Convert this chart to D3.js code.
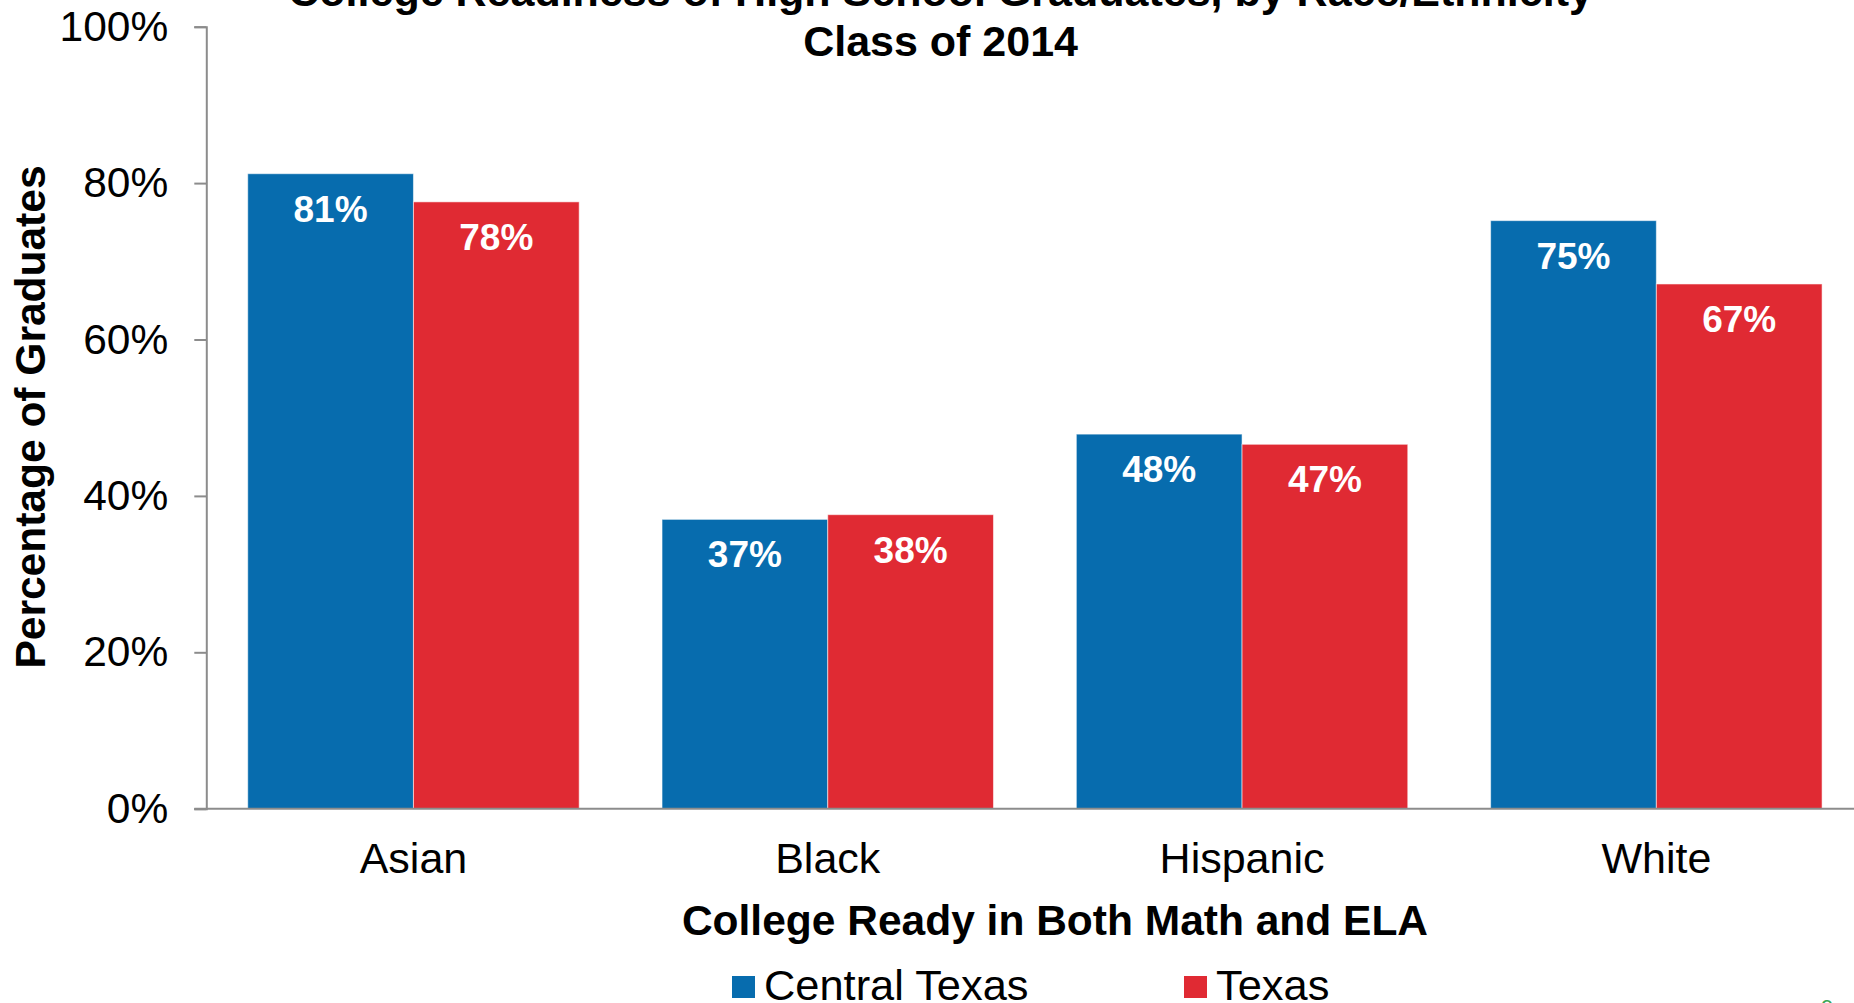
<!DOCTYPE html>
<html>
<head>
<meta charset="utf-8">
<script src="https://cdn.jsdelivr.net/npm/d3@7"></script>
<style>
  html, body { margin: 0; padding: 0; background: #fff; overflow: hidden; }
  svg { display: block; font-family: "Liberation Sans", Arial, Helvetica, sans-serif; }
</style>
</head>
<body>
<svg id="chart" width="1854" height="1003"></svg>
<script>
const categories = ["Asian", "Black", "Hispanic", "White"];
const seriesNames = ["Central Texas", "Texas"];
const centralTexas = [81.2, 37.0, 47.9, 75.2];
const texas = [77.6, 37.6, 46.6, 67.1];
const yTicks = [0, 20, 40, 60, 80, 100];
const titleLines = ["College Readiness of High School Graduates, by Race/Ethnicity", "Class of 2014"];
const xTitle = "College Ready in Both Math and ELA";
const yTitle = "Percentage of Graduates";
const colors = ["#076cae", "#e02a33"];

(function () {
const svg = d3.select("#chart");
const W = 1854, H = 1003;
const plotLeft = 206.3, plotRight = 1863.5, plotTop = 26.7, plotBottom = 808.7;

const x = d3.scaleBand().domain(categories).range([plotLeft, plotRight]).paddingInner(0.2).paddingOuter(0.1);
const xs = d3.scaleBand().domain(seriesNames).range([0, x.bandwidth()]);
const y = d3.scaleLinear().domain([0, 100]).range([plotBottom, plotTop]);

const seriesData = [centralTexas, texas];

// bars
seriesNames.forEach((s, si) => {
  const g = svg.append("g");
  g.selectAll("rect").data(categories).join("rect")
    .attr("x", c => x(c) + xs(s))
    .attr("y", (c, i) => y(seriesData[si][i]))
    .attr("width", xs.bandwidth())
    .attr("height", (c, i) => y(0) - y(seriesData[si][i]))
    .attr("fill", colors[si])
    .attr("stroke", "rgba(255,255,255,0.55)")
    .attr("stroke-width", 1);
  g.selectAll("text").data(categories).join("text")
    .attr("x", c => x(c) + xs(s) + xs.bandwidth() / 2)
    .attr("y", (c, i) => y(seriesData[si][i]) + 48)
    .attr("text-anchor", "middle")
    .attr("fill", "#fff")
    .attr("font-weight", "bold")
    .attr("font-size", 37)
    .text((c, i) => Math.round(seriesData[si][i]) + "%");
});

// y axis
const yAxis = d3.axisLeft(y).tickValues(yTicks).tickFormat(d => d + "%").tickSize(12).tickPadding(26);
const ya = svg.append("g").attr("transform", `translate(${plotLeft},0)`).call(yAxis);
ya.select(".domain").attr("stroke", "#8c8c8c").attr("stroke-width", 2);
ya.selectAll(".tick line").attr("stroke", "#8c8c8c").attr("stroke-width", 2);
ya.selectAll(".tick text").attr("font-size", 42.5).attr("fill", "#000")
  .attr("font-family", "'Liberation Sans', Arial, sans-serif");

// x axis
const xAxis = d3.axisBottom(x).tickSize(0).tickPadding(0);
const xa = svg.append("g").attr("transform", `translate(0,${plotBottom})`).call(xAxis);
xa.select(".domain").attr("d", `M${plotLeft - 12},0H${W}`).attr("stroke", "#8c8c8c").attr("stroke-width", 2);
xa.selectAll(".tick text").attr("font-size", 43).attr("fill", "#000")
  .attr("font-family", "'Liberation Sans', Arial, sans-serif")
  .attr("dy", null).attr("y", 873 - plotBottom);

// titles
svg.append("text").attr("x", 940.6).attr("y", 6).attr("text-anchor", "middle")
  .attr("font-weight", "bold").attr("font-size", 43).text(titleLines[0]);
svg.append("text").attr("x", 940.6).attr("y", 55.6).attr("text-anchor", "middle")
  .attr("font-weight", "bold").attr("font-size", 43).text(titleLines[1]);

svg.append("text").attr("x", 1055).attr("y", 935).attr("text-anchor", "middle")
  .attr("font-weight", "bold").attr("font-size", 42.5).text(xTitle);

svg.append("text").attr("transform", "translate(45,417) rotate(-90)").attr("text-anchor", "middle")
  .attr("font-weight", "bold").attr("font-size", 42.5).text(yTitle);

// legend
const legendX = [732, 1184];
seriesNames.forEach((s, si) => {
  svg.append("rect").attr("x", legendX[si]).attr("y", 976).attr("width", 23).attr("height", 22).attr("fill", colors[si]);
  svg.append("text").attr("x", legendX[si] + 32).attr("y", 999.5).attr("font-size", 43.4).text(s);
});

// page number (mostly cut off)
svg.append("text").attr("x", 1827).attr("y", 1015).attr("text-anchor", "middle")
  .attr("font-size", 22).attr("fill", "#3aa655").text("9");
})();
</script>
</body>
</html>
